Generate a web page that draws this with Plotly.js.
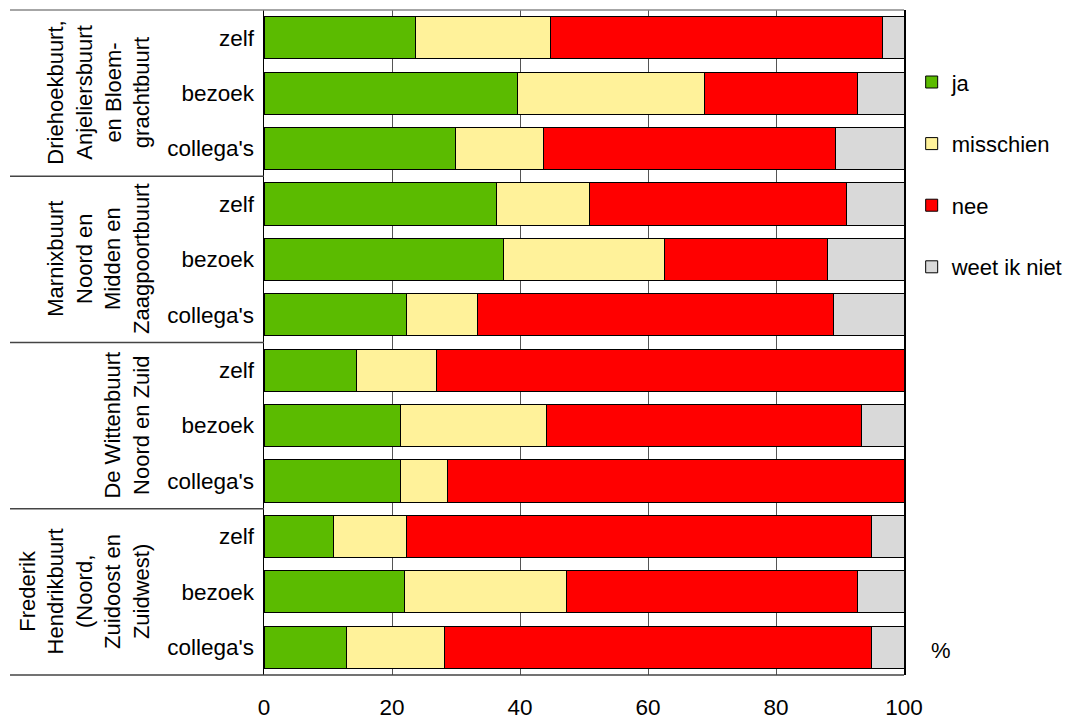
<!DOCTYPE html>
<html>
<head>
<meta charset="utf-8">
<script src="https://cdn.plot.ly/plotly-3.0.1.min.js"></script>
<style>html,body{margin:0;padding:0;background:#fff;}#chart{width:1076px;height:719px;}</style>
</head>
<body>
<div id="chart"></div>
<script>
// Data (percentages)
const groups = [
  "Driehoekbuurt,<br>Anjeliersbuurt<br>en Bloem-<br>grachtbuurt",
  "Marnixbuurt<br>Noord en<br>Midden en<br>Zaagpoortbuurt",
  "De Wittenbuurt<br>Noord en Zuid",
  "Frederik<br>Hendrikbuurt<br>(Noord,<br>Zuidoost en<br>Zuidwest)"
];
const subcats = ["zelf", "bezoek", "collega's"];
const seriesNames = ["ja", "misschien", "nee", "weet ik niet"];
const ja        = [23.6, 39.6, 29.9, 36.3, 37.4, 22.3, 14.5, 21.4, 21.4, 10.9, 21.9, 12.9];
const misschien = [21.1, 29.3, 13.7, 14.6, 25.2, 11.1, 12.4, 22.8, 7.2, 11.4, 25.3, 15.3];
const nee       = [51.9, 23.9, 45.7, 40.1, 25.5, 55.6, 73.1, 49.2, 71.4, 72.6, 45.6, 66.7];
const weetIkNiet= [3.4, 7.2, 10.7, 9.0, 11.9, 11.0, 0.0, 6.6, 0.0, 5.1, 7.2, 5.1];
const xTicks = [0, 20, 40, 60, 80, 100];

const colors = ["#5BBB00", "#FFF29A", "#FF0000", "#D9D9D9"];
const values = [ja, misschien, nee, weetIkNiet];

// category keys (unique) and their tick labels
const keys = [], tickText = [];
groups.forEach((g, gi) => subcats.forEach(s => { keys.push(gi + "|" + s); tickText.push(s); }));

const font = "Liberation Sans, Arial, sans-serif";
const traces = seriesNames.map((n, i) => ({
  type: "bar", orientation: "h", name: n, y: keys, x: values[i],
  legendgroup: "g" + i,
  marker: {color: colors[i], line: {color: "#000", width: 1}},
  hoverinfo: "x+name"
}));

const L = 264, R = 904, T = 10, B = 675;
const pw = R - L, ph = B - T;
const px = v => (v - L) / pw;

const shapes = [];
// top and bottom lines extending over the label area
shapes.push({type: "line", xref: "paper", yref: "paper", x0: px(10), x1: 1, y0: 1, y1: 1, line: {color: "#888", width: 1.5}});
shapes.push({type: "line", xref: "paper", yref: "paper", x0: px(10), x1: 1, y0: 0, y1: 0, line: {color: "#444", width: 1.5}});
// group separators
for (let g = 1; g < groups.length; g++) {
  const idx = g * subcats.length - 0.5;
  shapes.push({type: "line", xref: "paper", yref: "y", x0: px(10), x1: 0, y0: idx, y1: idx, line: {color: "#444", width: 1.5}});
}

const annotations = groups.map((g, gi) => ({
  text: g, xref: "paper", yref: "y", x: px(156), y: keys[gi * subcats.length + 1],
  xanchor: "right", yanchor: "middle", textangle: -90, showarrow: false, align: "center",
  font: {family: font, size: 22, color: "#000"}
}));
annotations.push({text: "%", xref: "paper", yref: "paper", x: px(941), y: (B - 650) / ph,
  xanchor: "center", yanchor: "middle", showarrow: false, font: {family: font, size: 22, color: "#000"}});

const layout = {
  width: 1076, height: 719,
  margin: {l: L, r: 1076 - R, t: T, b: 719 - B, pad: 0, autoexpand: false},
  paper_bgcolor: "#fff", plot_bgcolor: "#fff",
  barmode: "stack", bargap: 0.24,
  font: {family: font, size: 22, color: "#000"},
  xaxis: {range: [0, 100], tickvals: xTicks, ticktext: xTicks.map(String), showgrid: true,
    gridcolor: "#555", gridwidth: 1, zeroline: false, showline: false, ticks: "",
    ticklabelstandoff: 16, tickfont: {family: font, size: 22.5, color: "#000"}, fixedrange: true},
  yaxis: {type: "category", categoryorder: "array", categoryarray: keys, autorange: "reversed",
    tickvals: keys, ticktext: tickText, showline: true, linecolor: "#000", linewidth: 1.5, mirror: true,
    showgrid: false, ticks: "", ticklabelstandoff: 4, tickfont: {family: font, size: 22.5, color: "#000"}},
  showlegend: true,
  legend: {x: 1.012, y: 0.923, xanchor: "left", yanchor: "top", traceorder: "grouped",
    tracegroupgap: 30, font: {family: font, size: 22, color: "#000"}, bgcolor: "rgba(0,0,0,0)",
    itemwidth: 30},
  shapes: shapes, annotations: annotations
};

Plotly.newPlot("chart", traces, layout, {displayModeBar: false, staticPlot: true});
</script>
</body>
</html>
